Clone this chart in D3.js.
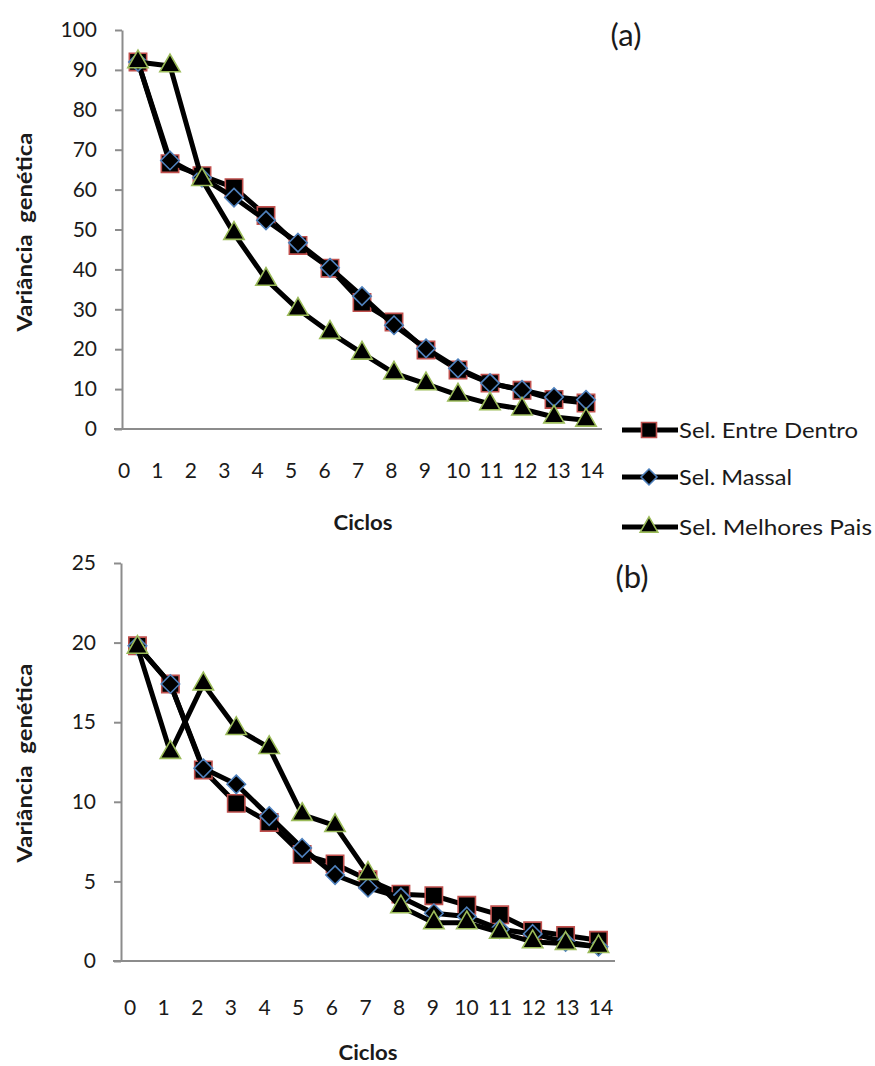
<!DOCTYPE html>
<html>
<head>
<meta charset="utf-8">
<script src="https://cdn.jsdelivr.net/npm/d3@7"></script>
<style>
  html, body { margin: 0; padding: 0; background: #fff; }
  svg { display: block; }
  text { font-family: Lato, "Open Sans", sans-serif; fill: #1a1a1a; }
</style>
</head>
<body>
<svg id="chart" width="875" height="1066"></svg>
<script>
// Cycles (categories)
const ciclos = d3.range(0, 15);

// Series names
const seriesNames = ["Sel. Entre Dentro", "Sel. Massal", "Sel. Melhores Pais"];

// Panel (a) – genetic variance per cycle
const aEntreDentro = [92, 66.5, 63.5, 60.5, 53.5, 46, 40.3, 31.7, 26.8, 19.8, 14.8, 11.5, 9.7, 7.4, 6.5];
const aMassal      = [92, 67.3, 63, 58, 52.3, 46.7, 40.4, 33.3, 26, 20.2, 15.2, 11.5, 9.8, 8, 7.3];
const aMelhores    = [92, 91, 62.5, 49, 37.5, 30, 24.2, 19, 14, 11.3, 8.5, 6.3, 5, 3, 2.2];

// Panel (b)
const bEntreDentro = [19.8, 17.4, 12.0, 9.9, 8.7, 6.7, 6.1, 5.1, 4.2, 4.1, 3.5, 2.9, 1.9, 1.6, 1.3];
const bMassal      = [19.8, 17.4, 12.1, 11.1, 9.1, 7.1, 5.4, 4.6, 4.0, 3.0, 2.8, 2.0, 1.7, 1.2, 0.9];
const bMelhores    = [19.7, 13.1, 17.4, 14.6, 13.4, 9.2, 8.5, 5.5, 3.4, 2.4, 2.4, 1.8, 1.2, 1.1, 0.9];

// Axis tick values
const aTicks = d3.range(0, 101, 10);
const bTicks = d3.range(0, 26, 5);

const svg = d3.select("#chart");

// Rotated-square diamond marker
const symbolWideDiamond = {
  draw(context, size) {
    const r = Math.sqrt(size / 2);
    context.moveTo(0, -r);
    context.lineTo(r, 0);
    context.lineTo(0, r);
    context.lineTo(-r, 0);
    context.closePath();
  }
};

const markerStyles = [
  { type: d3.symbolSquare,     size: 300, stroke: "#c0504d" },
  { type: symbolWideDiamond,   size: 170, stroke: "#4f81bd" },
  { type: d3.symbolTriangle,   size: 180, stroke: "#9bbb59" }
];

function drawPanel(cfg) {
  const g = svg.append("g");

  const x = d3.scaleBand().domain(ciclos).range([cfg.left, cfg.right]).padding(0);
  const xLab = d3.scalePoint().domain(ciclos).range(cfg.labelRange);
  const y = d3.scaleLinear().domain([0, cfg.max]).range([cfg.bottom, cfg.top]);
  const cx = i => x(i) + x.bandwidth() / 2;

  // y axis
  const yAxis = d3.axisLeft(y).tickValues(cfg.ticks).tickSize(7).tickPadding(18).tickSizeOuter(0);
  const ya = g.append("g").attr("transform", `translate(${cfg.left},0)`).call(yAxis);
  ya.select(".domain").attr("stroke", "#8c8c8c").attr("stroke-width", 2);
  ya.selectAll(".tick line").attr("stroke", "#8c8c8c").attr("stroke-width", 2);
  ya.selectAll(".tick text").style("font-size", "21px").style("font-family", "Lato, sans-serif").attr("fill", "#1a1a1a");

  // x axis line
  g.append("line")
    .attr("x1", cfg.left - 8).attr("x2", cfg.right)
    .attr("y1", cfg.bottom).attr("y2", cfg.bottom)
    .attr("stroke", "#8c8c8c").attr("stroke-width", 2);

  // x labels
  g.append("g").selectAll("text").data(ciclos).join("text")
    .attr("x", d => xLab(d)).attr("y", cfg.labelY)
    .attr("text-anchor", "middle")
    .style("font-size", "21px")
    .text(d => d);

  // axis titles
  g.append("text")
    .attr("x", cfg.xTitleX).attr("y", cfg.xTitleY)
    .attr("text-anchor", "middle")
    .attr("textLength", 59).attr("lengthAdjust", "spacingAndGlyphs")
    .style("font-size", "20px").style("font-weight", "bold")
    .text("Ciclos");

  g.append("text")
    .attr("transform", `translate(${cfg.yTitleX},${cfg.yTitleY}) rotate(-90)`)
    .attr("text-anchor", "middle")
    .attr("textLength", 199).attr("lengthAdjust", "spacingAndGlyphs")
    .style("font-size", "20px").style("font-weight", "bold")
    .style("white-space", "pre")
    .text("Variância  genética");

  // panel tag
  g.append("text")
    .attr("x", cfg.tagX).attr("y", cfg.tagY)
    .attr("text-anchor", "middle")
    .style("font-size", "31px")
    .text(cfg.tag);

  // series
  const line = d3.line().x((d, i) => cx(i)).y(d => y(d));
  cfg.series.forEach((vals, si) => {
    g.append("path").datum(vals)
      .attr("d", line)
      .attr("fill", "none").attr("stroke", "#000")
      .attr("stroke-width", 5).attr("stroke-linejoin", "round");
    const m = markerStyles[si];
    g.append("g").selectAll("path").data(vals).join("path")
      .attr("d", d3.symbol().type(m.type).size(m.size))
      .attr("transform", (d, i) => `translate(${cx(i)},${y(d)})`)
      .attr("fill", "#000").attr("stroke", m.stroke).attr("stroke-width", 1.6);
  });
}

drawPanel({
  left: 122, right: 602, top: 30, bottom: 429, max: 100, ticks: aTicks,
  labelRange: [124, 592], labelY: 478,
  xTitleX: 363, xTitleY: 530, yTitleX: 32, yTitleY: 232,
  tag: "(a)", tagX: 626, tagY: 46,
  series: [aEntreDentro, aMassal, aMelhores]
});

drawPanel({
  left: 121, right: 615, top: 563, bottom: 961, max: 25, ticks: bTicks,
  labelRange: [130, 601], labelY: 1015,
  xTitleX: 368, xTitleY: 1060, yTitleX: 32, yTitleY: 763,
  tag: "(b)", tagX: 632, tagY: 588,
  series: [bEntreDentro, bMassal, bMelhores]
});

// Legend
const legend = svg.append("g");
const legendY = [430, 477, 527];
const legendWidths = [179, 113, 193];
seriesNames.forEach((name, i) => {
  const row = legend.append("g").attr("transform", `translate(0,${legendY[i]})`);
  row.append("line").attr("x1", 622).attr("x2", 678).attr("y1", 0).attr("y2", 0)
    .attr("stroke", "#000").attr("stroke-width", 5);
  const m = markerStyles[i];
  row.append("path")
    .attr("d", d3.symbol().type(m.type).size(m.size * 0.75))
    .attr("transform", "translate(649,0)")
    .attr("fill", "#000").attr("stroke", m.stroke).attr("stroke-width", 1.6);
  row.append("text").attr("x", 679).attr("y", 8)
    .attr("textLength", legendWidths[i]).attr("lengthAdjust", "spacingAndGlyphs")
    .style("font-size", "21px")
    .text(name);
});
</script>
</body>
</html>
